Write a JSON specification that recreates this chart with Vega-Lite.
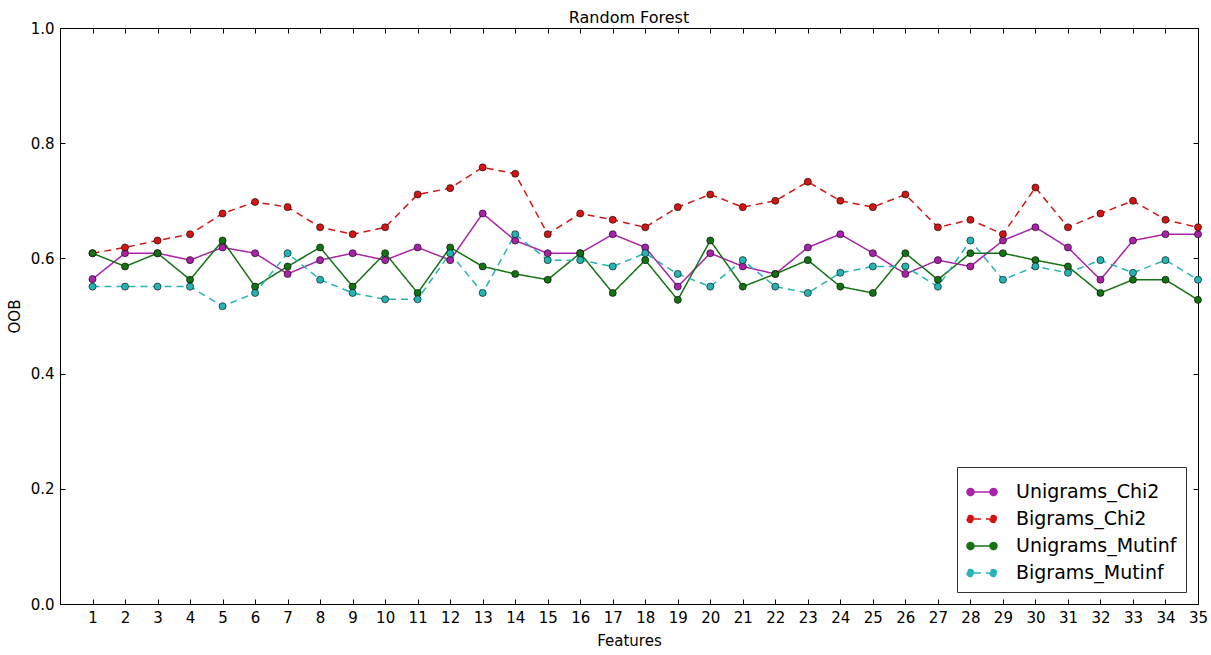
{
  "$schema": "https://vega.github.io/schema/vega-lite/v6.json",
  "width": 1138,
  "height": 576,
  "autosize": {"type": "none"},
  "padding": {"left": 60, "top": 28, "right": 13, "bottom": 51},
  "title": {"text": "Random Forest", "fontSize": 16, "fontWeight": "normal", "font": "DejaVu Sans", "color": "black", "offset": -5, "anchor": "middle"},
  "config": {
    "font": "DejaVu Sans",
    "view": {"stroke": "black", "strokeWidth": 1},
    "axis": {"domainColor": "black", "tickColor": "black", "labelColor": "black", "titleColor": "black", "grid": false, "labelFont": "DejaVu Sans", "titleFont": "DejaVu Sans", "titleFontWeight": "normal", "labelFontSize": 15, "titleFontSize": 15}
  },
  "data": {"values": [
    {"feature":1,"series":"Unigrams_Chi2","oob":0.564},{"feature":2,"series":"Unigrams_Chi2","oob":0.609},{"feature":3,"series":"Unigrams_Chi2","oob":0.609},{"feature":4,"series":"Unigrams_Chi2","oob":0.597},{"feature":5,"series":"Unigrams_Chi2","oob":0.619},{"feature":6,"series":"Unigrams_Chi2","oob":0.609},{"feature":7,"series":"Unigrams_Chi2","oob":0.573},{"feature":8,"series":"Unigrams_Chi2","oob":0.597},{"feature":9,"series":"Unigrams_Chi2","oob":0.609},{"feature":10,"series":"Unigrams_Chi2","oob":0.597},{"feature":11,"series":"Unigrams_Chi2","oob":0.619},{"feature":12,"series":"Unigrams_Chi2","oob":0.597},{"feature":13,"series":"Unigrams_Chi2","oob":0.678},{"feature":14,"series":"Unigrams_Chi2","oob":0.631},{"feature":15,"series":"Unigrams_Chi2","oob":0.609},{"feature":16,"series":"Unigrams_Chi2","oob":0.609},{"feature":17,"series":"Unigrams_Chi2","oob":0.642},{"feature":18,"series":"Unigrams_Chi2","oob":0.619},{"feature":19,"series":"Unigrams_Chi2","oob":0.551},{"feature":20,"series":"Unigrams_Chi2","oob":0.609},{"feature":21,"series":"Unigrams_Chi2","oob":0.586},{"feature":22,"series":"Unigrams_Chi2","oob":0.573},{"feature":23,"series":"Unigrams_Chi2","oob":0.619},{"feature":24,"series":"Unigrams_Chi2","oob":0.642},{"feature":25,"series":"Unigrams_Chi2","oob":0.609},{"feature":26,"series":"Unigrams_Chi2","oob":0.573},{"feature":27,"series":"Unigrams_Chi2","oob":0.597},{"feature":28,"series":"Unigrams_Chi2","oob":0.586},{"feature":29,"series":"Unigrams_Chi2","oob":0.631},{"feature":30,"series":"Unigrams_Chi2","oob":0.654},{"feature":31,"series":"Unigrams_Chi2","oob":0.619},{"feature":32,"series":"Unigrams_Chi2","oob":0.563},{"feature":33,"series":"Unigrams_Chi2","oob":0.631},{"feature":34,"series":"Unigrams_Chi2","oob":0.642},{"feature":35,"series":"Unigrams_Chi2","oob":0.642},
    {"feature":1,"series":"Bigrams_Chi2","oob":0.609},{"feature":2,"series":"Bigrams_Chi2","oob":0.619},{"feature":3,"series":"Bigrams_Chi2","oob":0.631},{"feature":4,"series":"Bigrams_Chi2","oob":0.642},{"feature":5,"series":"Bigrams_Chi2","oob":0.678},{"feature":6,"series":"Bigrams_Chi2","oob":0.698},{"feature":7,"series":"Bigrams_Chi2","oob":0.689},{"feature":8,"series":"Bigrams_Chi2","oob":0.654},{"feature":9,"series":"Bigrams_Chi2","oob":0.642},{"feature":10,"series":"Bigrams_Chi2","oob":0.654},{"feature":11,"series":"Bigrams_Chi2","oob":0.711},{"feature":12,"series":"Bigrams_Chi2","oob":0.722},{"feature":13,"series":"Bigrams_Chi2","oob":0.758},{"feature":14,"series":"Bigrams_Chi2","oob":0.747},{"feature":15,"series":"Bigrams_Chi2","oob":0.642},{"feature":16,"series":"Bigrams_Chi2","oob":0.678},{"feature":17,"series":"Bigrams_Chi2","oob":0.667},{"feature":18,"series":"Bigrams_Chi2","oob":0.654},{"feature":19,"series":"Bigrams_Chi2","oob":0.689},{"feature":20,"series":"Bigrams_Chi2","oob":0.711},{"feature":21,"series":"Bigrams_Chi2","oob":0.689},{"feature":22,"series":"Bigrams_Chi2","oob":0.700},{"feature":23,"series":"Bigrams_Chi2","oob":0.733},{"feature":24,"series":"Bigrams_Chi2","oob":0.700},{"feature":25,"series":"Bigrams_Chi2","oob":0.689},{"feature":26,"series":"Bigrams_Chi2","oob":0.711},{"feature":27,"series":"Bigrams_Chi2","oob":0.654},{"feature":28,"series":"Bigrams_Chi2","oob":0.667},{"feature":29,"series":"Bigrams_Chi2","oob":0.642},{"feature":30,"series":"Bigrams_Chi2","oob":0.723},{"feature":31,"series":"Bigrams_Chi2","oob":0.654},{"feature":32,"series":"Bigrams_Chi2","oob":0.678},{"feature":33,"series":"Bigrams_Chi2","oob":0.700},{"feature":34,"series":"Bigrams_Chi2","oob":0.667},{"feature":35,"series":"Bigrams_Chi2","oob":0.654},
    {"feature":1,"series":"Unigrams_Mutinf","oob":0.609},{"feature":2,"series":"Unigrams_Mutinf","oob":0.586},{"feature":3,"series":"Unigrams_Mutinf","oob":0.609},{"feature":4,"series":"Unigrams_Mutinf","oob":0.563},{"feature":5,"series":"Unigrams_Mutinf","oob":0.631},{"feature":6,"series":"Unigrams_Mutinf","oob":0.551},{"feature":7,"series":"Unigrams_Mutinf","oob":0.586},{"feature":8,"series":"Unigrams_Mutinf","oob":0.619},{"feature":9,"series":"Unigrams_Mutinf","oob":0.551},{"feature":10,"series":"Unigrams_Mutinf","oob":0.609},{"feature":11,"series":"Unigrams_Mutinf","oob":0.540},{"feature":12,"series":"Unigrams_Mutinf","oob":0.619},{"feature":13,"series":"Unigrams_Mutinf","oob":0.586},{"feature":14,"series":"Unigrams_Mutinf","oob":0.573},{"feature":15,"series":"Unigrams_Mutinf","oob":0.563},{"feature":16,"series":"Unigrams_Mutinf","oob":0.609},{"feature":17,"series":"Unigrams_Mutinf","oob":0.540},{"feature":18,"series":"Unigrams_Mutinf","oob":0.597},{"feature":19,"series":"Unigrams_Mutinf","oob":0.528},{"feature":20,"series":"Unigrams_Mutinf","oob":0.631},{"feature":21,"series":"Unigrams_Mutinf","oob":0.551},{"feature":22,"series":"Unigrams_Mutinf","oob":0.573},{"feature":23,"series":"Unigrams_Mutinf","oob":0.597},{"feature":24,"series":"Unigrams_Mutinf","oob":0.551},{"feature":25,"series":"Unigrams_Mutinf","oob":0.540},{"feature":26,"series":"Unigrams_Mutinf","oob":0.609},{"feature":27,"series":"Unigrams_Mutinf","oob":0.563},{"feature":28,"series":"Unigrams_Mutinf","oob":0.609},{"feature":29,"series":"Unigrams_Mutinf","oob":0.609},{"feature":30,"series":"Unigrams_Mutinf","oob":0.597},{"feature":31,"series":"Unigrams_Mutinf","oob":0.586},{"feature":32,"series":"Unigrams_Mutinf","oob":0.540},{"feature":33,"series":"Unigrams_Mutinf","oob":0.563},{"feature":34,"series":"Unigrams_Mutinf","oob":0.563},{"feature":35,"series":"Unigrams_Mutinf","oob":0.528},
    {"feature":1,"series":"Bigrams_Mutinf","oob":0.551},{"feature":2,"series":"Bigrams_Mutinf","oob":0.551},{"feature":3,"series":"Bigrams_Mutinf","oob":0.551},{"feature":4,"series":"Bigrams_Mutinf","oob":0.551},{"feature":5,"series":"Bigrams_Mutinf","oob":0.517},{"feature":6,"series":"Bigrams_Mutinf","oob":0.540},{"feature":7,"series":"Bigrams_Mutinf","oob":0.609},{"feature":8,"series":"Bigrams_Mutinf","oob":0.563},{"feature":9,"series":"Bigrams_Mutinf","oob":0.540},{"feature":10,"series":"Bigrams_Mutinf","oob":0.529},{"feature":11,"series":"Bigrams_Mutinf","oob":0.529},{"feature":12,"series":"Bigrams_Mutinf","oob":0.609},{"feature":13,"series":"Bigrams_Mutinf","oob":0.540},{"feature":14,"series":"Bigrams_Mutinf","oob":0.642},{"feature":15,"series":"Bigrams_Mutinf","oob":0.597},{"feature":16,"series":"Bigrams_Mutinf","oob":0.597},{"feature":17,"series":"Bigrams_Mutinf","oob":0.586},{"feature":18,"series":"Bigrams_Mutinf","oob":0.609},{"feature":19,"series":"Bigrams_Mutinf","oob":0.573},{"feature":20,"series":"Bigrams_Mutinf","oob":0.551},{"feature":21,"series":"Bigrams_Mutinf","oob":0.597},{"feature":22,"series":"Bigrams_Mutinf","oob":0.551},{"feature":23,"series":"Bigrams_Mutinf","oob":0.540},{"feature":24,"series":"Bigrams_Mutinf","oob":0.575},{"feature":25,"series":"Bigrams_Mutinf","oob":0.586},{"feature":26,"series":"Bigrams_Mutinf","oob":0.586},{"feature":27,"series":"Bigrams_Mutinf","oob":0.551},{"feature":28,"series":"Bigrams_Mutinf","oob":0.631},{"feature":29,"series":"Bigrams_Mutinf","oob":0.563},{"feature":30,"series":"Bigrams_Mutinf","oob":0.586},{"feature":31,"series":"Bigrams_Mutinf","oob":0.575},{"feature":32,"series":"Bigrams_Mutinf","oob":0.597},{"feature":33,"series":"Bigrams_Mutinf","oob":0.575},{"feature":34,"series":"Bigrams_Mutinf","oob":0.597},{"feature":35,"series":"Bigrams_Mutinf","oob":0.563}
  ]},
  "resolve": {"axis": {"x": "independent", "y": "independent"}},
  "layer": [
    {
      "mark": {"type": "line", "strokeWidth": 1.5, "clip": true},
      "encoding": {
        "x": {"field": "feature", "type": "quantitative", "scale": {"domain": [0, 35], "nice": false, "zero": false},
              "axis": {"orient": "bottom", "title": "Features", "values": [1,2,3,4,5,6,7,8,9,10,11,12,13,14,15,16,17,18,19,20,21,22,23,24,25,26,27,28,29,30,31,32,33,34,35], "format": "d", "tickSize": -5, "labelPadding": 11, "titlePadding": 8, "labelFlush": false}},
        "y": {"field": "oob", "type": "quantitative", "scale": {"domain": [0, 1], "nice": false},
              "axis": {"orient": "left", "title": "OOB", "values": [0, 0.2, 0.4, 0.6, 0.8, 1.0], "format": ".1f", "tickSize": -5, "labelPadding": 11, "titlePadding": 8, "labelFlush": false}},
        "color": {"field": "series", "type": "nominal",
                  "scale": {"domain": ["Unigrams_Chi2", "Bigrams_Chi2", "Unigrams_Mutinf", "Bigrams_Mutinf"], "range": ["#aa22aa", "#d41515", "#137313", "#25b4b4"]},
                  "legend": {"title": null, "orient": "none", "legendX": 897, "legendY": 439, "strokeColor": "#333333", "fillColor": "white", "padding": 9, "cornerRadius": 0,
                             "symbolType": "M-1,0 A0.233,0.233 0 1,0 -0.534,0 A0.233,0.233 0 1,0 -1,0 Z M0.534,0 A0.233,0.233 0 1,0 1,0 A0.233,0.233 0 1,0 0.534,0 Z M-0.534,0 L0.534,0",
                             "symbolSize": 900, "symbolStrokeWidth": 1.5, "labelFontSize": 19, "labelFont": "DejaVu Sans", "labelColor": "black", "labelOffset": 18, "labelLimit": 400, "rowPadding": 1,
                             "encode": {"symbols": {"update": {"fill": {"scale": "color", "field": "value"}, "stroke": {"scale": "color", "field": "value"}, "opacity": {"value": 1}}}}}},
        "strokeDash": {"field": "series", "type": "nominal",
                       "scale": {"domain": ["Unigrams_Chi2", "Bigrams_Chi2", "Unigrams_Mutinf", "Bigrams_Mutinf"], "range": [[1, 0], [7, 5], [1, 0], [7, 5]]},
                       "legend": {"title": null}}
      }
    },
    {
      "mark": {"type": "point", "filled": true, "size": 50, "stroke": "black", "strokeWidth": 0.6, "opacity": 1, "clip": false},
      "encoding": {
        "x": {"field": "feature", "type": "quantitative",
              "axis": {"orient": "top", "title": null, "labels": false, "values": [1,2,3,4,5,6,7,8,9,10,11,12,13,14,15,16,17,18,19,20,21,22,23,24,25,26,27,28,29,30,31,32,33,34,35], "tickSize": -5, "domain": true}},
        "y": {"field": "oob", "type": "quantitative",
              "axis": {"orient": "right", "title": null, "labels": false, "values": [0, 0.2, 0.4, 0.6, 0.8, 1.0], "tickSize": -5}},
        "color": {"field": "series", "type": "nominal", "legend": null}
      }
    }
  ]
}
